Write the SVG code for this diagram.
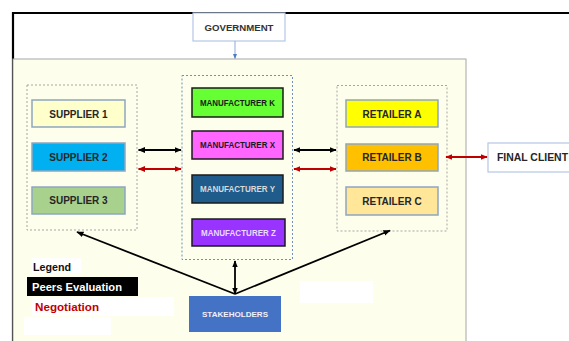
<svg xmlns="http://www.w3.org/2000/svg" width="569" height="341" viewBox="0 0 569 341">
<defs>
<style>
text{font-family:"Liberation Sans",Arial,sans-serif;font-weight:bold;text-anchor:middle}
.grp{fill:none;stroke:#8FA3BF;stroke-width:1;stroke-dasharray:2,2}
.sup{stroke:#8EA6C0;stroke-width:1.5}
.mfr{stroke:#1a1a1a;stroke-width:1.5}
.lbl{font-size:10px;fill:#262626}
.ml{font-size:8.6px}
.blk{stroke:#000;stroke-width:1.8;fill:none}
.red{stroke:#C00000;stroke-width:1.8;fill:none}
</style>
<marker id="ab" viewBox="0 0 10 10" refX="9" refY="5" markerWidth="4" markerHeight="4" orient="auto-start-reverse" markerUnits="strokeWidth"><path d="M0,1 L10,5 L0,9 z" fill="#000"/></marker>
<marker id="ar" viewBox="0 0 10 10" refX="9" refY="5" markerWidth="4" markerHeight="4" orient="auto-start-reverse" markerUnits="strokeWidth"><path d="M0,1 L10,5 L0,9 z" fill="#C00000"/></marker>
<marker id="ag" viewBox="0 0 10 10" refX="9" refY="5" markerWidth="5" markerHeight="5" orient="auto" markerUnits="strokeWidth"><path d="M0,1 L10,5 L0,9 z" fill="#4F7BC0"/></marker>
</defs>
<rect width="569" height="341" fill="#fff"/>
<path d="M13,345 V13 H575" fill="none" stroke="#000" stroke-width="2.2"/>
<rect x="13" y="59" width="453" height="290" fill="#FEFEEC" stroke="#A6A6A6" stroke-width="1"/>
<g id="government">
<rect x="193" y="13" width="92" height="28" fill="#fff" stroke="#B4C6E7" stroke-width="1.2"/>
<text x="239" y="30.5" style="font-size:9.8px;fill:#333" textLength="69" lengthAdjust="spacingAndGlyphs">GOVERNMENT</text>
</g>
<rect id="supplier-group" class="grp" x="27" y="85" width="110" height="145" style="stroke:#A6A6A6"/>
<rect id="manufacturer-group" class="grp" x="182" y="75.5" width="110.5" height="184" style="stroke:#6F8FC0"/>
<rect id="retailer-group" class="grp" x="337" y="85.5" width="110" height="145.5" style="stroke:#A6A6A6"/>
<g id="supplier1"><rect class="sup" x="32" y="100" width="93" height="27" fill="#FFFFCC"/><text class="lbl" x="78.5" y="117.5">SUPPLIER 1</text></g>
<g id="supplier2"><rect class="sup" x="32" y="143" width="93" height="28" fill="#00B0F0"/><text class="lbl" x="78.5" y="160.5">SUPPLIER 2</text></g>
<g id="supplier3"><rect class="sup" x="32" y="187" width="93" height="27" fill="#A9D18E"/><text class="lbl" x="78.5" y="204">SUPPLIER 3</text></g>
<g id="manufacturerK"><rect class="mfr" x="192" y="88" width="91" height="29" fill="#66FF33"/><text class="ml" x="237.5" y="105.8" fill="#1a1a1a" textLength="75" lengthAdjust="spacingAndGlyphs">MANUFACTURER K</text></g>
<g id="manufacturerX"><rect class="mfr" x="192" y="131" width="91" height="28" fill="#FF66FF"/><text class="ml" x="237.5" y="148.3" fill="#1a1a1a" textLength="75" lengthAdjust="spacingAndGlyphs">MANUFACTURER X</text></g>
<g id="manufacturerY"><rect class="mfr" x="192" y="175" width="91" height="28" fill="#1F5C8C"/><text class="ml" x="237.5" y="192.3" fill="#D9D9D9" textLength="75" lengthAdjust="spacingAndGlyphs">MANUFACTURER Y</text></g>
<g id="manufacturerZ"><rect class="mfr" x="192" y="219" width="93" height="27" fill="#9933FF"/><text class="ml" x="238.5" y="235.8" fill="#E8DCFF" textLength="75" lengthAdjust="spacingAndGlyphs">MANUFACTURER Z</text></g>
<g id="retailerA"><rect class="sup" x="346" y="100" width="92" height="27" fill="#FFFF00"/><text class="lbl" x="392" y="117.5">RETAILER A</text></g>
<g id="retailerB"><rect class="sup" x="346" y="144" width="92" height="27" fill="#FFC000"/><text class="lbl" x="392" y="161">RETAILER B</text></g>
<g id="retailerC"><rect class="sup" x="346" y="187" width="92" height="28" fill="#FFE699"/><text class="lbl" x="392" y="204.5">RETAILER C</text></g>
<g id="final-client"><rect x="488" y="143" width="95" height="29" fill="#fff" stroke="#B4C6E7" stroke-width="1.2"/><text x="497" y="161" style="font-size:10.5px;fill:#262626;text-anchor:start" textLength="71" lengthAdjust="spacingAndGlyphs">FINAL CLIENT</text></g>
<g id="stakeholders"><rect x="189" y="296" width="92" height="36" fill="#4472C4"/><text x="235" y="316.5" style="font-size:8px;fill:#F0F0F8" textLength="66" lengthAdjust="spacingAndGlyphs">STAKEHOLDERS</text></g>
<g id="legend">
<rect x="32" y="258" width="49" height="15" fill="#fff"/>
<text x="33" y="270.5" style="font-size:10.5px;fill:#111;text-anchor:start" textLength="38" lengthAdjust="spacingAndGlyphs">Legend</text>
<rect x="27" y="277" width="111" height="19" fill="#000"/>
<text x="32" y="290.5" style="font-size:11px;fill:#fff;text-anchor:start" textLength="90" lengthAdjust="spacingAndGlyphs">Peers Evaluation</text>
<rect x="32" y="297" width="142" height="19" fill="#fff"/>
<text x="35" y="311" style="font-size:11px;fill:#C00000;text-anchor:start" textLength="64" lengthAdjust="spacingAndGlyphs">Negotiation</text>
<rect x="24" y="317" width="87" height="18" fill="#fff"/>
<rect x="300" y="281" width="73" height="22" fill="#fff"/>
</g>
<g id="connectors">
<line x1="235" y1="41" x2="235" y2="58.5" stroke="#8EA9DB" stroke-width="1" marker-end="url(#ag)"/>
<line class="blk" x1="138.5" y1="150" x2="181" y2="150" marker-start="url(#ab)" marker-end="url(#ab)"/>
<line class="red" x1="138.5" y1="169" x2="181" y2="169" marker-start="url(#ar)" marker-end="url(#ar)"/>
<line class="blk" x1="294" y1="150" x2="336" y2="150" marker-start="url(#ab)" marker-end="url(#ab)"/>
<line class="red" x1="294" y1="169" x2="336" y2="169" marker-start="url(#ar)" marker-end="url(#ar)"/>
<line class="red" x1="446" y1="157" x2="487" y2="157" marker-start="url(#ar)" marker-end="url(#ar)"/>
<line class="blk" x1="235" y1="294" x2="77" y2="232" marker-end="url(#ab)"/>
<line class="blk" x1="235" y1="294" x2="390" y2="230.5" marker-end="url(#ab)"/>
<line class="blk" x1="235" y1="294" x2="235" y2="261" marker-start="url(#ab)" marker-end="url(#ab)"/>
</g>
</svg>
